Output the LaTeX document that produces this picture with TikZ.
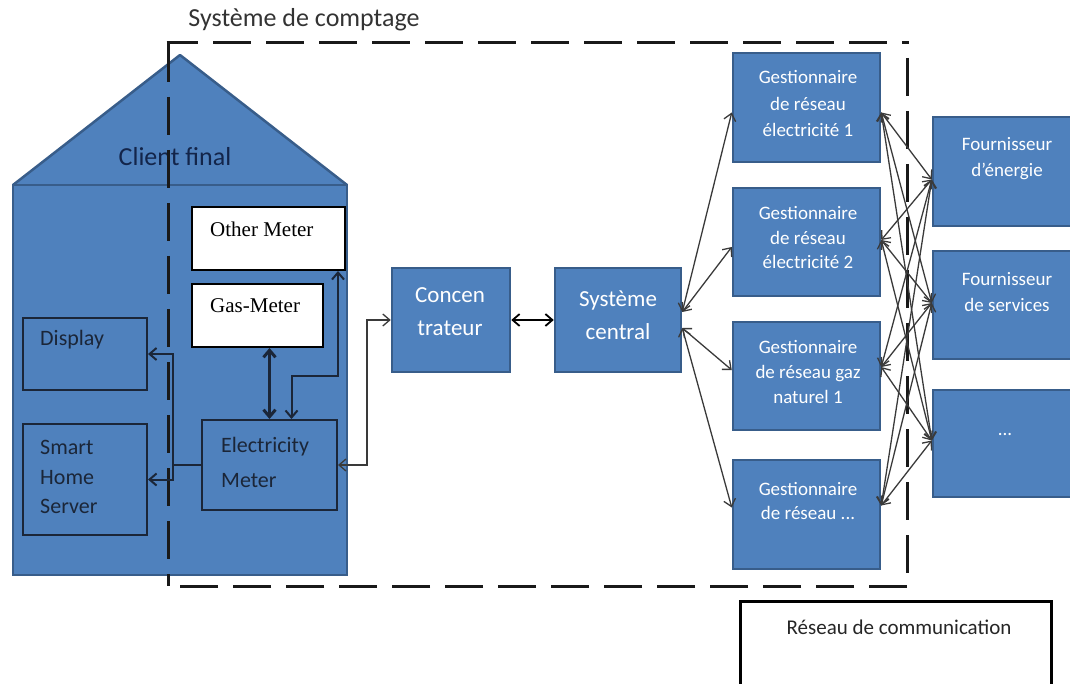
\documentclass[tikz,border=0pt]{standalone}
\usepackage{fontspec}
\setmainfont{Carlito}
\newfontfamily\tnr{Liberation Serif}
\usetikzlibrary{arrows.meta}
\definecolor{boxblue}{HTML}{4F81BD}
\definecolor{boxedge}{HTML}{385D8A}
\definecolor{inkdark}{HTML}{1B2638}
\definecolor{navytext}{HTML}{13254A}
\definecolor{arrowgray}{HTML}{3A3A3A}
\begin{document}
\begin{tikzpicture}[x=1pt,y=-1pt,
  >={Straight Barb[length=7pt,width=12pt]},
  bluebox/.style={draw=boxedge,line width=2.5pt,fill=boxblue,inner sep=0pt,rectangle},
  housebox/.style={draw=inkdark,line width=2pt,fill=boxblue,inner sep=0pt,rectangle},
  meterbox/.style={draw=black,line width=2pt,fill=white,inner sep=0pt,rectangle},
  link/.style={draw=arrowgray,line width=1.3pt},
  wire/.style={draw=inkdark,line width=2pt},
  framebit/.style={line width=3pt,draw=black!90},
  wtxt/.style={text=white,font=\fontsize{19}{25}\selectfont,align=center,inner sep=0pt},
  ctxt/.style={text=white,font=\fontsize{23}{33}\selectfont,align=center,inner sep=0pt},
  htxt/.style={text=inkdark,font=\fontsize{22}{29.5}\selectfont,align=left,inner sep=0pt,anchor=west},
  mtxt/.style={text=black,font=\tnr\fontsize{21}{25}\selectfont,inner sep=0pt,anchor=west},
]
\useasboundingbox (0,0) rectangle (1070,684);

% house
\fill[boxblue] (13,185) -- (180,55) -- (347,185) -- cycle;
\draw[boxedge,line width=2.5pt,line join=round] (13,185) -- (180,55) -- (347,185);
\node[bluebox,minimum width=334pt,minimum height=390pt] (house) at (180,380) {};
\node[text=navytext,font=\fontsize{26}{30}\selectfont,inner sep=0pt] (tcf) at (175,157) {Client final};

% metering system frame (dashed, drawn dash by dash)
\draw[framebit] (166.5,43) -- (198,43);
\draw[framebit] (168,43) -- (168,82);
\foreach \s in {45,98,...,739} { \draw[framebit] ({168+\s},43) -- ({min(168+\s+38,908.5)},43); }
\foreach \s in {15,68,...,543} { \draw[framebit] (907,{43+\s}) -- (907,{min(43+\s+38,587.5)}); }
\foreach \s in {0,53,...,739} { \draw[framebit] ({907-\s},586) -- ({max(907-\s-38,166.5)},586); }
\foreach \s in {54,107,...,543} { \draw[framebit] (168,{43+\s}) -- (168,{min(43+\s+38,586)}); }
\node[text=black!80,font=\fontsize{26}{30}\selectfont,inner sep=0pt] (tsc) at (304,20) {Système de comptage};

% inner boxes
\node[meterbox,minimum width=153pt,minimum height=63pt] (other) at (268.5,238.5) {};
\node[mtxt] (tother) at (210,229) {Other Meter};
\node[meterbox,minimum width=131pt,minimum height=63pt] (gas) at (257.5,315.5) {};
\node[mtxt] (tgas) at (210,306) {Gas-Meter};
\node[housebox,minimum width=124pt,minimum height=72pt] (disp) at (85,354) {};
\node[htxt] (tdisp) at (40,340) {Display};
\node[housebox,minimum width=124pt,minimum height=111pt] (shs) at (85,479.5) {};
\node[htxt] (tshs) at (40,477) {Smart\\Home\\Server};
\node[housebox,minimum width=135pt,minimum height=90pt] (elec) at (269.5,465) {};
\node[htxt,font=\fontsize{22}{35}\selectfont] (telec) at (221,462.5) {Electricity\\Meter};

% central chain
\node[bluebox,minimum width=118pt,minimum height=104pt] (conc) at (451,320) {};
\node[ctxt] (tconc) at (450,311.5) {Concen\\trateur};
\node[bluebox,minimum width=126pt,minimum height=104pt] (sc) at (618,320) {};
\node[ctxt] (tsc2) at (618,315) {Système\\central};

% network managers
\node[bluebox,minimum width=147pt,minimum height=109pt] (g1) at (806.5,107.5) {};
\node[wtxt,font=\fontsize{19}{26.5}\selectfont] (tg1) at (808,104) {Gestionnaire\\de réseau\\électricité 1};
\node[bluebox,minimum width=147pt,minimum height=108pt] (g2) at (806.5,242) {};
\node[wtxt,font=\fontsize{19}{24.5}\selectfont] (tg2) at (808,238) {Gestionnaire\\de réseau\\électricité 2};
\node[bluebox,minimum width=147pt,minimum height=108pt] (g3) at (806.5,376) {};
\node[wtxt] (tg3) at (808,372) {Gestionnaire\\de réseau gaz\\naturel 1};
\node[bluebox,minimum width=147pt,minimum height=109pt] (g4) at (806.5,514.5) {};
\node[wtxt,font=\fontsize{19}{24}\selectfont] (tg4) at (808,501) {Gestionnaire\\de réseau ...};

% suppliers
\node[bluebox,minimum width=139pt,minimum height=109pt] (f1) at (1002.5,171.5) {};
\node[wtxt,font=\fontsize{19}{26}\selectfont] (tf1) at (1007,159) {Fournisseur\\d'énergie};
\node[bluebox,minimum width=139pt,minimum height=108pt] (f2) at (1002.5,305) {};
\node[wtxt,font=\fontsize{19}{26}\selectfont] (tf2) at (1007,292) {Fournisseur\\de services};
\node[bluebox,minimum width=139pt,minimum height=107pt] (f3) at (1002.5,443.5) {};
\node[wtxt] (tf3) at (1005,434) {...};

% communication network
\node[draw=black,line width=3pt,fill=white,minimum width=311pt,minimum height=100pt,inner sep=0pt] (res) at (895.5,651) {};
\node[text=black!85,font=\fontsize{21}{25}\selectfont,inner sep=0pt] (tres) at (899,627) {Réseau de communication};

% connectors inside the house
\draw[wire,<->,line width=3pt] (gas.south -| elec.north) -- (elec.north);
\draw[wire,<->] ([xshift=-8pt]other.south east) -- ++(0,105) -| ([xshift=22pt]elec.north);
\coordinate (bus) at ([xshift=-28pt]elec.west);
\draw[wire] (elec.west) -- (bus);
\draw[wire,->] (bus) |- (disp.east);
\draw[wire,->] (bus) |- (shs.east);

% meter to concentrator and central system
\draw[link,<->] (elec.east) -- ++(29,0) |- (conc.west);
\draw[link,<->,draw=black,line width=1.8pt] (conc.east) -- (sc.west);

% central system to managers
\draw[link,<->] ([yshift=8pt]sc.east) -- ([yshift=-5pt]g1.west);
\draw[link,<->] ([yshift=8pt]sc.east) -- ([yshift=-5pt]g2.west);
\draw[link,<->] ([yshift=-8pt]sc.east) -- ([yshift=6pt]g3.west);
\draw[link,<->] ([yshift=-8pt]sc.east) -- ([yshift=7pt]g4.west);

% managers to suppliers mesh
\coordinate (g1r) at ([yshift=-5pt]g1.east);
\coordinate (g2r) at ([yshift=2pt]g2.east);
\coordinate (g3r) at ([yshift=9pt]g3.east);
\coordinate (g4r) at ([yshift=9pt]g4.east);
\coordinate (f1l) at ([yshift=-8pt]f1.west);
\coordinate (f2l) at ([yshift=2pt]f2.west);
\coordinate (f3l) at ([yshift=3pt]f3.west);
\foreach \g in {g1r,g2r,g3r,g4r}{
  \foreach \f in {f1l,f2l,f3l}{
    \draw[link,<->] (\g) -- (\f);
  }
}
\end{tikzpicture}
\end{document}
